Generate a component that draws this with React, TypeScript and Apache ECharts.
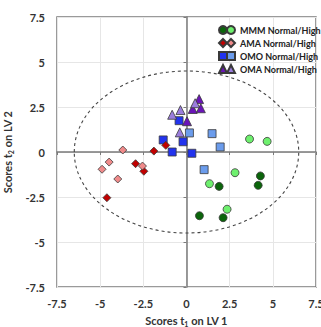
import React, { useEffect, useRef } from "react";
import * as echarts from "echarts";

const xTicks = { min: -7.5, max: 7.5, interval: 2.5 };
const yTicks = { min: -7.5, max: 7.5, interval: 2.5 };

const mmmNormal = [[4.28, -1.33], [4.15, -1.85], [1.89, -1.91], [0.75, -3.54], [2.12, -3.65]];
const mmmHigh = [[3.65, 0.72], [4.67, 0.59], [2.81, -1.15], [1.33, -1.76], [2.35, -3.18]];
const amaNormal = [[-1.89, 0.05], [-1.2, 0.37], [-2.95, -0.65], [-2.47, -1.07], [-4.61, -2.54]];
const amaHigh = [[-3.69, 0.11], [-4.48, -0.56], [-4.89, -0.96], [-3.98, -1.5], [-2.55, -0.78]];
const omoNormal = [[-0.43, 1.74], [-1.35, 0.67], [-0.2, 0.57], [-0.83, 0.0], [0.31, -0.07]];
const omoHigh = [[0.17, 1.06], [1.48, 1.02], [1.95, 0.28], [1.02, -0.98]];
const omaNormal = [[0.03, 1.71], [0.36, 2.39], [0.73, 2.94], [0.83, 2.43]];
const omaHigh = [[-0.83, 2.07], [-0.35, 2.33], [-0.39, 1.09], [0.5, 2.71]];

const groups = ["MMM", "AMA", "OMO", "OMA"];
const ellipse = { cx: 0, cy: 0, rx: 6.5, ry: 4.5 };

const FONT = "Lato";

export default function App() {
  const ref = useRef<HTMLDivElement>(null);
  useEffect(() => {
    document.body.style.margin = "0";
    const chart = echarts.init(ref.current!, undefined, { renderer: "svg" });
    const border = "#3a3a3a";
    const mk = (name: string, data: number[][], symbol: string, size: number, color: string, z: number) => ({
      name,
      type: "scatter",
      data,
      symbol,
      symbolSize: size,
      xAxisIndex: 0,
      yAxisIndex: 0,
      z,
      itemStyle: { color, borderColor: border, borderWidth: 0.8, opacity: 1 },
    });
    const series = [
      mk("OMO Normal", omoNormal, "rect", 8, "#2233ee", 3),
      mk("OMO High", omoHigh, "rect", 8, "#6b9cec", 3),
      mk("OMA Normal", omaNormal, "triangle", 9, "#6a14b8", 4),
      mk("OMA High", omaHigh, "triangle", 9, "#9a7ddc", 4),
      mk("AMA Normal", amaNormal, "diamond", 8, "#c00000", 5),
      mk("AMA High", amaHigh, "diamond", 8, "#f08a8a", 5),
      mk("MMM Normal", mmmNormal, "circle", 8, "#0b650b", 6),
      mk("MMM High", mmmHigh, "circle", 8, "#6ef06e", 6),
    ];
    const labelStyle = { fontFamily: FONT, fontWeight: "bold" as const, fontSize: 11, color: "#333" };
    const nameStyle = {
      fontFamily: FONT,
      fontWeight: "bold" as const,
      fontSize: 11,
      color: "#333",
      lineHeight: 14,
      rich: { s: { fontFamily: FONT, fontWeight: "bold" as const, fontSize: 7, color: "#333", lineHeight: 14, verticalAlign: "bottom" as const } },
    };
    const legendCommon = {
      orient: "vertical",
      top: 25,
      itemWidth: 8,
      itemHeight: 8,
      itemGap: 3,
      selectedMode: false,
      padding: 0,
    };
    chart.setOption({
      animation: false,
      grid: { left: 57, right: 5, top: 17, bottom: 40, show: true, borderColor: "#7a7a7a", borderWidth: 1.5, backgroundColor: "transparent", outerBoundsMode: "none" },
      legend: [
        {
          ...legendCommon,
          data: groups.map((g) => g + " Normal"),
          left: 218,
          formatter: () => "",
          textStyle: { fontSize: 8, lineHeight: 8 },
        },
        {
          ...legendCommon,
          data: groups.map((g) => g + " High"),
          left: 226,
          formatter: (n: string) => n.replace(" High", "") + " Normal/High",
          textStyle: { fontFamily: FONT, fontWeight: 700, fontSize: 9, lineHeight: 8, color: "#222" },
        },
      ],
      xAxis: [
        {
          type: "value",
          ...xTicks,
          position: "bottom",
          axisLine: { show: false, onZero: false },
          axisTick: { show: false },
          splitLine: { show: true, lineStyle: { color: "#e6e6e6", width: 1 } },
          axisLabel: { ...labelStyle, margin: 11, formatter: (v: number) => String(v) },
          name: "Scores t{s|1} on LV 1",
          nameLocation: "middle",
          nameGap: 26,
          nameTextStyle: nameStyle,
        },
        {
          type: "value",
          ...xTicks,
          position: "bottom",
          axisLine: { show: true, onZero: true, lineStyle: { color: "#7a7a7a", width: 1.5 } },
          axisTick: { show: true, length: 3, lineStyle: { color: "#7a7a7a", width: 1 } },
          splitLine: { show: false },
          axisLabel: { show: false },
        },
      ],
      yAxis: [
        {
          type: "value",
          ...yTicks,
          position: "left",
          axisLine: { show: false, onZero: false },
          axisTick: { show: false },
          splitLine: { show: true, lineStyle: { color: "#e6e6e6", width: 1 } },
          axisLabel: { ...labelStyle, margin: 12, formatter: (v: number) => String(v) },
          name: "Scores t{s|2} on LV 2",
          nameLocation: "middle",
          nameGap: 34,
          nameTextStyle: nameStyle,
        },
        {
          type: "value",
          ...yTicks,
          position: "left",
          axisLine: { show: true, onZero: true, lineStyle: { color: "#7a7a7a", width: 1.5 } },
          axisTick: { show: true, length: 3, lineStyle: { color: "#7a7a7a", width: 1 } },
          splitLine: { show: false },
          axisLabel: { show: false },
        },
      ],
      series,
    });
    const c = chart.convertToPixel({ xAxisIndex: 0, yAxisIndex: 0 }, [ellipse.cx, ellipse.cy]) as number[];
    const r = chart.convertToPixel({ xAxisIndex: 0, yAxisIndex: 0 }, [ellipse.cx + ellipse.rx, ellipse.cy + ellipse.ry]) as number[];
    chart.setOption({
      graphic: [
        {
          type: "ellipse",
          silent: true,
          z: 1,
          shape: { cx: c[0], cy: c[1], rx: r[0] - c[0], ry: c[1] - r[1] },
          style: { fill: "none", stroke: "#444", lineWidth: 1.1, lineDash: [3, 3] },
        },
      ],
    });
    return () => chart.dispose();
  }, []);
  return <div ref={ref} style={{ width: 321, height: 327 }} />;
}
